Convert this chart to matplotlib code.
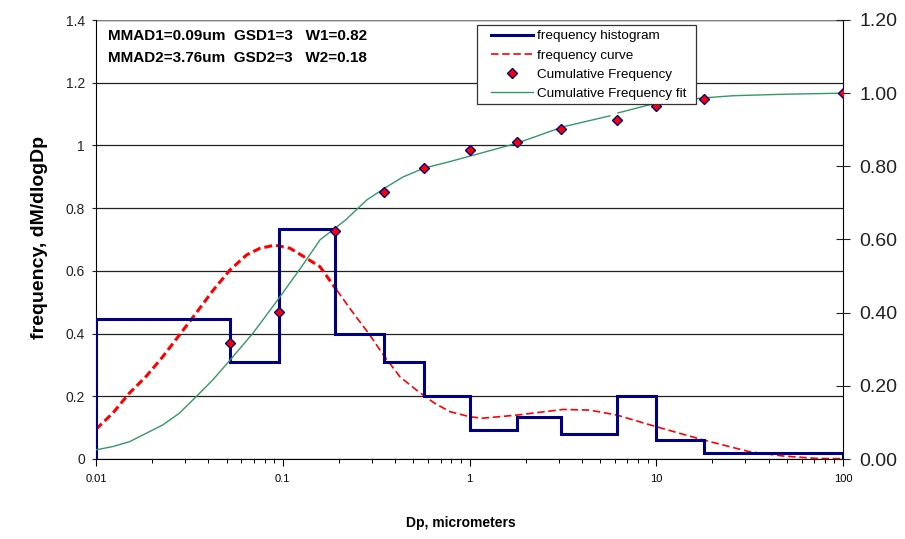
import numpy as np
import matplotlib
matplotlib.use("Agg")
import matplotlib.pyplot as plt
from matplotlib.lines import Line2D
from matplotlib.patches import Rectangle
from matplotlib.ticker import FixedLocator, FixedFormatter, NullFormatter, LogLocator

plt.rcParams['font.family'] = ['Liberation Sans', 'DejaVu Sans']

# Stage cut-points (micrometers) and measured dM/dlogDp per stage
bin_edges = [0.01, 0.052, 0.095, 0.19, 0.35, 0.57, 1.0, 1.8, 3.1, 6.2, 10, 18, 100]
hist_freq = [0.445, 0.31, 0.735, 0.40, 0.31, 0.20, 0.093, 0.135, 0.08, 0.20, 0.06, 0.02]

# Cumulative mass fraction at each upper cut-point
cum_dp = [0.052, 0.095, 0.19, 0.35, 0.57, 1.0, 1.8, 3.1, 6.2, 10, 18, 100]
cum_freq = [0.318, 0.403, 0.623, 0.729, 0.795, 0.845, 0.867, 0.901, 0.927, 0.966, 0.983, 1.0]

# Bimodal lognormal frequency curve (left axis)
curve_dp = [0.01, 0.01229, 0.01508, 0.01853, 0.02276, 0.02793, 0.03432, 0.0425, 0.0522,
            0.0641, 0.0755, 0.0909, 0.1094, 0.1343, 0.1583, 0.1945,
            0.2388, 0.293, 0.3455, 0.4245, 0.532, 0.65, 0.786, 1.0, 1.17, 1.79,
            3.17, 4.4, 6.17, 10, 17.8, 31.7, 47.7, 72, 100]
curve_freq = [0.095, 0.146, 0.210, 0.263, 0.326, 0.395, 0.465, 0.539, 0.603,
              0.651, 0.672, 0.682, 0.672, 0.640, 0.613, 0.539,
              0.465, 0.395, 0.332, 0.262, 0.215, 0.178, 0.151, 0.135, 0.130, 0.140,
              0.158, 0.156, 0.140, 0.103, 0.061, 0.023, 0.0096, 0.002, 0.001]

# Fitted cumulative curve (right axis); NaN marks a break in the fitted line
fit_dp = [0.01, 0.01229, 0.01508, 0.01853, 0.02276, 0.02793, 0.03432, 0.04217,
          0.05173, 0.0693, 0.094, 0.1263, 0.1583, 0.2165, 0.2816, 0.3528, 0.4405,
          0.5705, 0.786, 1.79, 3.17, 5.65, np.nan,
          6.24, 10, 17.8, 25.8, 47.7, 100]
fit_cum = [0.025, 0.034, 0.047, 0.070, 0.093, 0.125, 0.170, 0.216,
           0.268, 0.344, 0.435, 0.526, 0.599, 0.653, 0.708, 0.741, 0.771,
           0.795, 0.813, 0.863, 0.908, 0.938, np.nan,
           0.946, 0.973, 0.987, 0.993, 0.997, 1.0]

x_ticks = [0.01, 0.1, 1, 10, 100]
x_ticklabels = ['0.01', '0.1', '1', '10', '100']
left_ticks = [0, 0.2, 0.4, 0.6, 0.8, 1.0, 1.2, 1.4]
left_ticklabels = ['0', '0.2', '0.4', '0.6', '0.8', '1', '1.2', '1.4']
right_ticks = [0, 0.2, 0.4, 0.6, 0.8, 1.0, 1.2]
right_ticklabels = ['0.00', '0.20', '0.40', '0.60', '0.80', '1.00', '1.20']

NAVY = '#000080'
RED = '#FF0000'
GREEN = '#339966'

W, H = 905, 539
fig = plt.figure(figsize=(W / 100, H / 100), dpi=100)
ax = fig.add_axes([96 / W, 1 - 459 / H, (843 - 96) / W, (459 - 20) / H])
ax2 = ax.twinx()

# ---- left axis: histogram + frequency curve
ax.set_xscale('log')
ax.set_xlim(0.01, 100)
ax.set_ylim(0, 1.4)
ax.set_axisbelow(True)
ax.yaxis.grid(True, color='#202020', lw=0.9)
ax.xaxis.grid(False)

# the curve's dense low-size portion renders heavier than its tail
split = curve_dp.index(0.1945)
ax.plot(curve_dp[:split + 1], curve_freq[:split + 1], color=RED, lw=2.2,
        dashes=(2.6, 1.3), zorder=2)
curve_line, = ax.plot(curve_dp[split:], curve_freq[split:], color=RED, lw=1.2,
                      dashes=(4.5, 2.2), zorder=2)
ax.stairs(hist_freq, bin_edges, baseline=0, color=NAVY, lw=2.2, zorder=3)

ax.xaxis.set_major_locator(FixedLocator(x_ticks))
ax.xaxis.set_major_formatter(FixedFormatter(x_ticklabels))
ax.xaxis.set_minor_locator(LogLocator(base=10, subs=np.arange(2, 10)))
ax.xaxis.set_minor_formatter(NullFormatter())
ax.tick_params(axis='x', which='major', direction='out', length=5, width=0.8,
               labelsize=8, pad=6, colors='black')
ax.tick_params(axis='x', which='minor', direction='out', length=3, width=0.7)

ax.yaxis.set_major_locator(FixedLocator(left_ticks))
ax.yaxis.set_major_formatter(FixedFormatter(left_ticklabels))
ax.tick_params(axis='y', direction='out', length=3, width=0.8, labelsize=10,
               pad=5, colors='#222222')

for side in ('top', 'right'):
    ax.spines[side].set_visible(False)
ax.spines['left'].set_color('black')
ax.spines['bottom'].set_color('black')

# plot-area top edge
ax.axhline(1.4, color='#808080', lw=1.0, zorder=1)

# ---- right axis: cumulative data + fit
ax2.set_ylim(0, 1.2)
fit_line, = ax2.plot(fit_dp, fit_cum, color=GREEN, lw=1.0, zorder=3)
pts, = ax2.plot(cum_dp, cum_freq, ls='none', marker='D', markersize=5,
                markerfacecolor=RED, markeredgecolor=NAVY, markeredgewidth=1.0,
                zorder=4)
ax2.yaxis.set_major_locator(FixedLocator(right_ticks))
ax2.yaxis.set_major_formatter(FixedFormatter(right_ticklabels))
ax2.tick_params(axis='y', direction='inout', length=10, width=0.8, labelsize=14,
                pad=7, colors='#222222')
for side in ('top', 'left', 'bottom'):
    ax2.spines[side].set_visible(False)
ax2.spines['right'].set_color('black')
ax.set_xlim(0.01, 100)

# ---- legend: white box with a square border, entries placed inside it
frame = Rectangle((477 / W, 1 - 104 / H), (696 - 477) / W, (104 - 25) / H,
                  transform=fig.transFigure, facecolor='white',
                  edgecolor='#333333', lw=0.9, zorder=9, clip_on=False)
ax2.add_artist(frame)

handles = [Line2D([], [], color=NAVY, lw=2.2),
           Line2D([], [], color=RED, lw=1.2, dashes=(4.5, 2.2)),
           pts,
           fit_line]
labels = ['frequency histogram', 'frequency curve', 'Cumulative Frequency',
          'Cumulative Frequency fit']
leg = ax2.legend(handles, labels, loc='upper left',
                 bbox_to_anchor=(491 / W, 1 - 30 / H), bbox_transform=fig.transFigure,
                 borderaxespad=0, fontsize=9.7, frameon=False,
                 handlelength=3.1, handletextpad=0.3, labelspacing=0.5,
                 borderpad=0, numpoints=1)
leg.set_zorder(10)

# ---- annotation and axis titles
fig.text(108 / W, 1 - 36 / H, 'MMAD1=0.09um  GSD1=3   W1=0.82', fontsize=11,
         fontweight='bold', ha='left', va='center')
fig.text(108 / W, 1 - 58 / H, 'MMAD2=3.76um  GSD2=3   W2=0.18', fontsize=11,
         fontweight='bold', ha='left', va='center')
fig.text(40 / W, 1 - 238 / H, 'frequency, dM/dlogDp', fontsize=14,
         fontweight='bold', rotation=90, ha='center', va='center')
fig.text(461 / W, 1 - 523 / H, 'Dp, micrometers', fontsize=10,
         fontweight='bold', ha='center', va='center')

fig.savefig('out.png', dpi=100)
